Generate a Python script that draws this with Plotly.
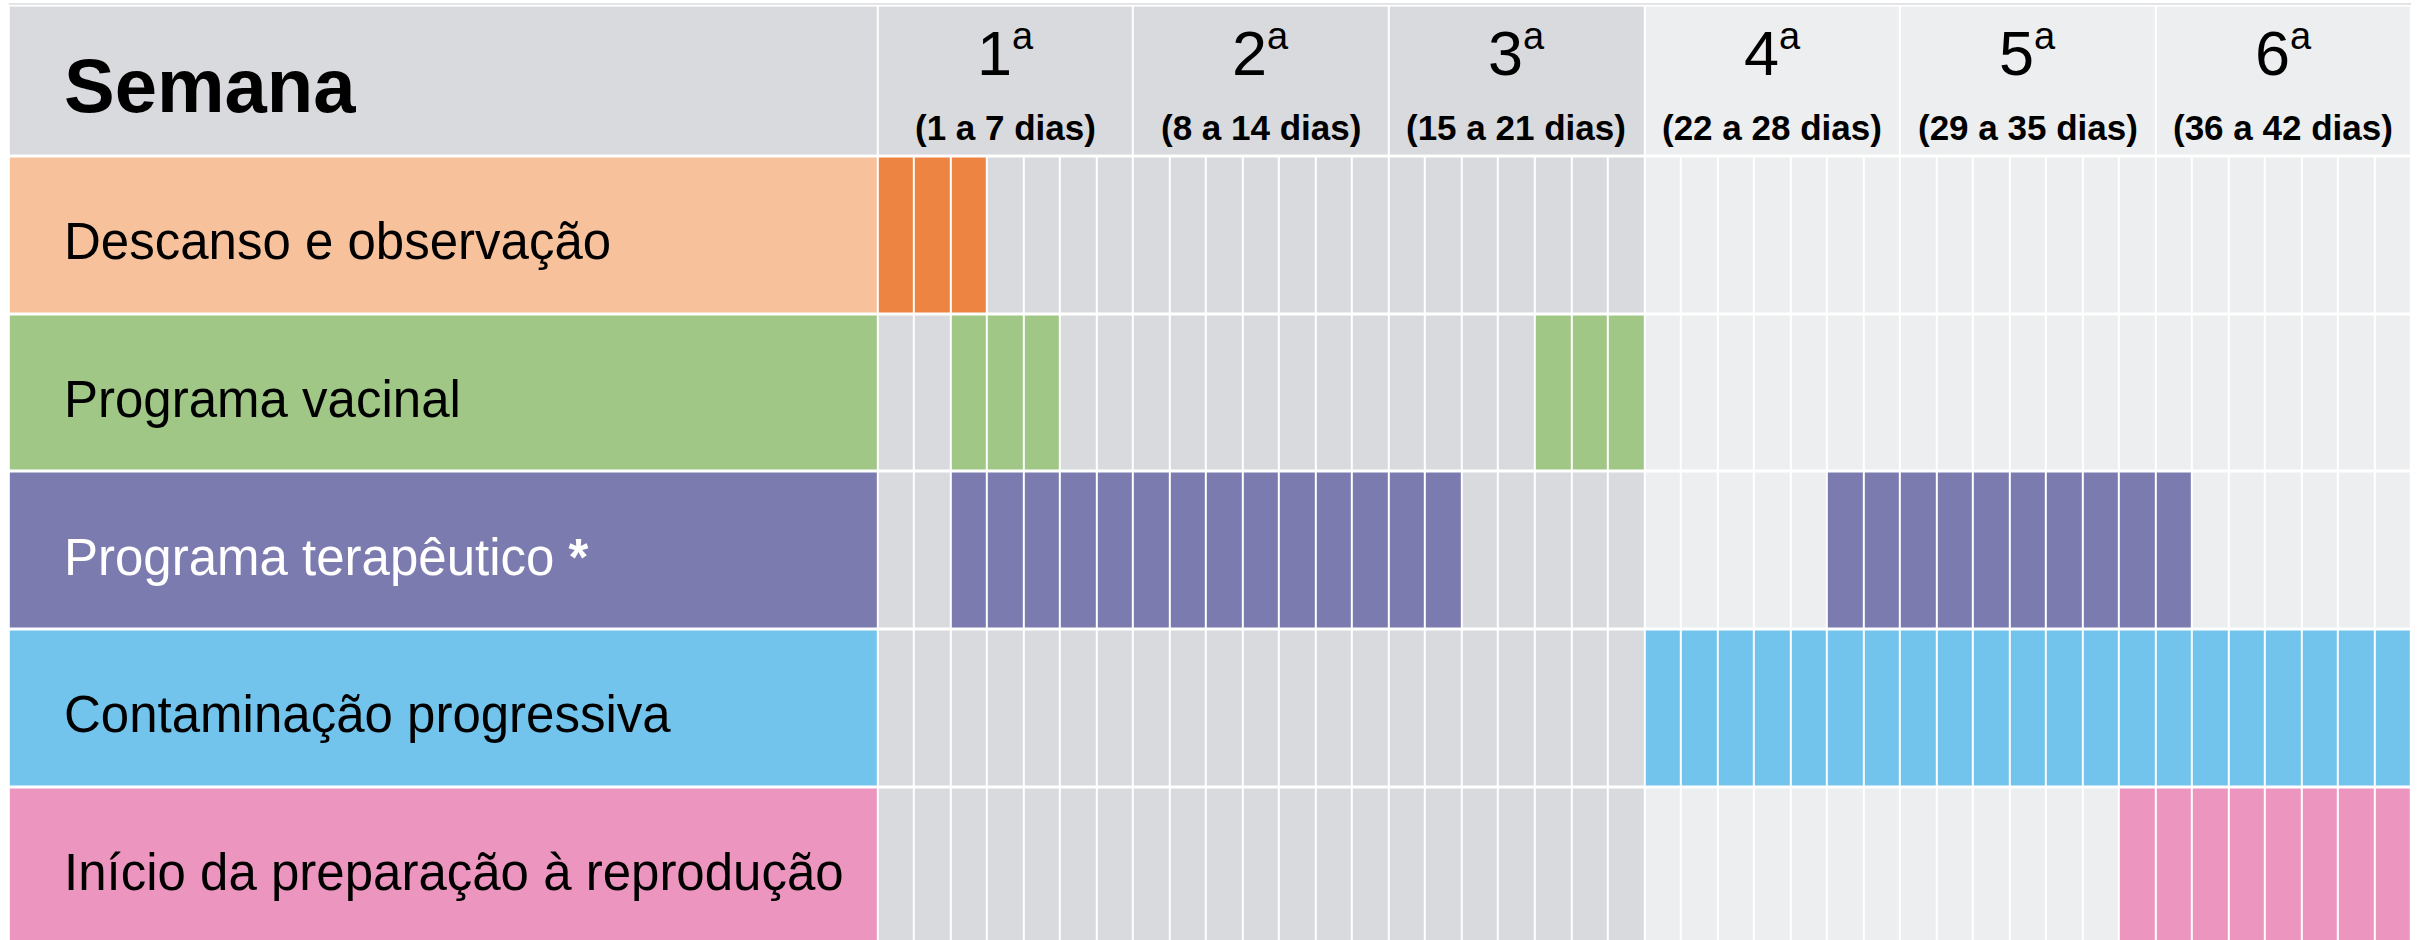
import plotly.graph_objects as go

# Activities shown as rows of the schedule
categorias = [
    "Descanso e observação",
    "Programa vacinal",
    "Programa terapêutico <b>*</b>",
    "Contaminação progressiva",
    "Início da preparação à reprodução",
]

# Active periods of each activity: (first day, last day)
periodos_descanso = [(1, 3)]
periodos_vacinal = [(3, 5), (19, 21)]
periodos_terapeutico = [(3, 16), (27, 36)]
periodos_contaminacao = [(22, 42)]
periodos_reproducao = [(35, 42)]

# Week headers
semanas = ["1", "2", "3", "4", "5", "6"]
intervalos = [
    "(1 a 7 dias)", "(8 a 14 dias)", "(15 a 21 dias)",
    "(22 a 28 dias)", "(29 a 35 dias)", "(36 a 42 dias)",
]
titulo_cabecalho = "Semana"

# Colours
cores_rotulo = ["#F7C19C", "#A0C785", "#7C7BB0", "#72C4EC", "#EB95BF"]
cores_barra = ["#EE8442", "#A0C785", "#7C7BB0", "#72C4EC", "#EB95BF"]
cores_texto = ["#000000", "#000000", "#FFFFFF", "#000000", "#000000"]
cinza_escuro = "#D9DADD"
cinza_claro = "#EDEEEF"

DIAS_SEMANA = 7
n_semanas = len(semanas)
n_dias = DIAS_SEMANA * n_semanas
semanas_escuras = 3  # first weeks drawn on the darker background

periodos = [periodos_descanso, periodos_vacinal, periodos_terapeutico,
            periodos_contaminacao, periodos_reproducao]

# Discrete palette: 0/1 backgrounds, then label colours, then bar colours
paleta = [cinza_escuro, cinza_claro] + cores_rotulo + cores_barra
n_cor = len(paleta)
escala = []
for i, c in enumerate(paleta):
    escala.append([i / n_cor, c])
    escala.append([(i + 1) / n_cor, c])

# Layout geometry (in axis units: one unit = one day horizontally, one row vertically)
X_ROTULO = -23.79      # left edge of the label column
Y_TOPO = -0.957        # top edge of the header row

# Body grid: label column + one brick per day
z_corpo = []
for r, lista in enumerate(periodos):
    linha = [2 + r]
    for d in range(1, n_dias + 1):
        ativo = any(a <= d <= b for a, b in lista)
        if ativo:
            linha.append(2 + len(cores_rotulo) + r)
        else:
            linha.append(0 if d <= semanas_escuras * DIAS_SEMANA else 1)
    z_corpo.append(linha)

x_corpo = [X_ROTULO] + list(range(0, n_dias + 1))
y_corpo = list(range(0, len(categorias) + 1))

# Header grid: title cell + one brick per week
z_cab = [[0] + [0 if s < semanas_escuras else 1 for s in range(n_semanas)]]
x_cab = [X_ROTULO] + [s * DIAS_SEMANA for s in range(n_semanas + 1)]
y_cab = [Y_TOPO, 0]

fig = go.Figure()
comum = dict(colorscale=escala, zmin=0, zmax=n_cor, showscale=False,
             xgap=2, ygap=3, hoverinfo="skip")
fig.add_trace(go.Heatmap(z=z_cab, x=x_cab, y=y_cab, **comum))
fig.add_trace(go.Heatmap(z=z_corpo, x=x_corpo, y=y_corpo, **comum))

FONTE = "Liberation Sans, Arial, sans-serif"

anot = []
anot.append(dict(x=-22.34, y=-0.45, text=titulo_cabecalho,
                 xanchor="left", yanchor="middle", showarrow=False,
                 font=dict(family=FONTE, size=76, color="#000000", weight="bold")))
for r, nome in enumerate(categorias):
    anot.append(dict(x=-22.34, y=r + 0.54, text=nome, xanchor="left",
                     yanchor="middle", showarrow=False,
                     font=dict(family=FONTE, size=51, color=cores_texto[r])))
for s in range(n_semanas):
    xc = s * DIAS_SEMANA + DIAS_SEMANA / 2
    anot.append(dict(x=xc, y=-0.665,
                     text=f"{semanas[s]}<sup><span style='font-size:38px'>a</span></sup>",
                     xanchor="center", yanchor="middle", showarrow=False,
                     font=dict(family=FONTE, size=63, color="#000000")))
    anot.append(dict(x=xc, y=-0.185, text=intervalos[s],
                     xanchor="center", yanchor="middle", showarrow=False,
                     font=dict(family=FONTE, size=35, color="#000000", weight="bold")))

fig.update_layout(
    width=2425, height=940,
    margin=dict(l=0, r=0, t=0, b=0),
    paper_bgcolor="#FFFFFF", plot_bgcolor="#FFFFFF",
    xaxis=dict(range=[-24.03, 42.38], visible=False, fixedrange=True),
    yaxis=dict(range=[4.967, -0.992], visible=False, fixedrange=True),
    annotations=anot,
    shapes=[dict(type="line", xref="x", yref="paper", x0=X_ROTULO, x1=n_dias,
                 y0=1 - 4 / 940, y1=1 - 4 / 940,
                 line=dict(color="#E3E4E7", width=2))],
)

fig.write_html("out.html")
